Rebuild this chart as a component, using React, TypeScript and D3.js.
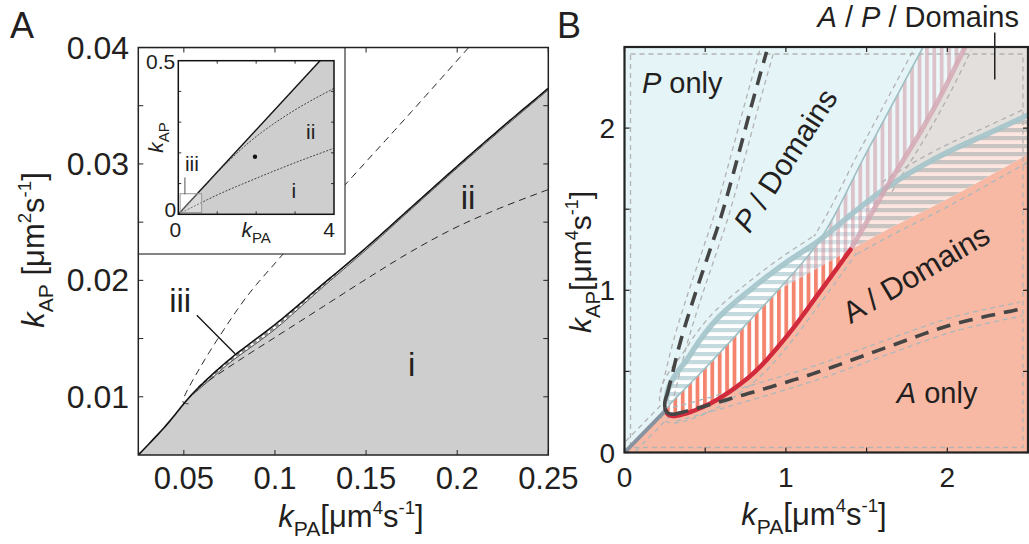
import React from 'react';
import * as d3 from 'd3';

type Pt = [number, number];

// Phase diagrams. Panel A: main plot + inset, panel B: regimes.

const FONT = "'Liberation Sans', Arial, Helvetica, sans-serif";
const INK = '#231f20';

// ---------- panel A data ----------
const A_X_TICKS = [0.05, 0.1, 0.15, 0.2, 0.25];
const A_X_LABELS = ['0.05', '0.1', '0.15', '0.2', '0.25'];
const A_Y_TICKS = [0.01, 0.015, 0.02, 0.025, 0.03, 0.035, 0.04];
const A_Y_LABELED = [0.01, 0.02, 0.03, 0.04];
const A_Y_LABELS = ['0.01', '0.02', '0.03', '0.04'];

// top of the grey area (solid line)
const boundaryA: Pt[] = [
  [0.025, 0.005], [0.04, 0.0075], [0.055, 0.0103], [0.075, 0.0132], [0.1, 0.0162],
  [0.125, 0.0195], [0.15, 0.0228], [0.175, 0.0263], [0.2, 0.0298], [0.225, 0.0332], [0.25, 0.0365],
];
// lower edge of the thin band iii
const bandEdgeA: Pt[] = [
  [0.055, 0.0102], [0.065, 0.01155], [0.075, 0.0129], [0.1, 0.0158], [0.125, 0.01925],
  [0.15, 0.02262], [0.175, 0.02615], [0.2, 0.02965], [0.225, 0.03305], [0.25, 0.03636],
];
const upperDashA: Pt[] = [
  [0.0525, 0.0094], [0.0497, 0.0095], [0.05, 0.0099], [0.06, 0.0128], [0.07, 0.0153], [0.085, 0.0187],
  [0.103, 0.022], [0.125, 0.0259], [0.1425, 0.0289], [0.175, 0.0345], [0.2063, 0.04],
];
const lowerDashA: Pt[] = [
  [0.058, 0.0108], [0.08, 0.0131], [0.1, 0.0151], [0.125, 0.0176], [0.15, 0.0201],
  [0.175, 0.0225], [0.2, 0.0246], [0.225, 0.0263], [0.25, 0.0278],
];
const hatchSpanA: Pt = [0.058, 0.135];
const regionLabelsA = [
  { text: 'ii', at: [0.206, 0.0261] as Pt },
  { text: 'i', at: [0.175, 0.0118] as Pt },
  { text: 'iii', at: [0.048, 0.0173] as Pt },
];
const iiiLeader: Pt[] = [[0.0571, 0.017], [0.0781, 0.0137]];

// inset
const I_X_TICKS = [1, 2, 3];
const I_Y_TICKS = [0.1, 0.2, 0.3, 0.4];
const insetSolid: Pt[] = [[0, 0], [3.64, 0.5]];
const insetUpperDot: Pt[] = [[0, 0], [0.6, 0.082], [1.2, 0.162], [2, 0.253], [3, 0.34], [4, 0.41]];
const insetLowerDot: Pt[] = [[0, 0], [1, 0.063], [2, 0.117], [3, 0.168], [4, 0.215]];
const insetDot: Pt = [1.97, 0.1875];
const insetZoomBox: Pt[] = [[0.047, 0.0057], [0.6, 0.067]];
const insetLabels = [
  { text: 'ii', at: [3.4, 0.245] as Pt },
  { text: 'i', at: [2.97, 0.053] as Pt },
  { text: 'iii', at: [0.35, 0.14] as Pt },
];
const insetLeader: Pt[] = [[0.17, 0.12], [0.17, 0.065]];

// ---------- panel B data ----------
const B_TICKS = [0, 0.5, 1, 1.5, 2, 2.5];
const B_LABELED = [0, 1, 2];

const diagB: Pt[] = [[0, 0], [0.255, 0.26]];
const thinLineB: Pt[] = [
  [0.255, 0.26], [0.28, 0.295], [0.5, 0.52], [0.8, 0.84], [0.95, 1.0], [1.21, 1.31], [1.5, 1.85], [1.85, 2.5],
];
const thinSplitB = 0.95;
const blueCurveB: Pt[] = [
  [0.26, 0.33], [0.27, 0.39], [0.31, 0.47], [0.385, 0.57], [0.48, 0.71], [0.59, 0.84], [0.8, 1.02],
  [1.0, 1.17], [1.21, 1.31], [1.42, 1.48], [1.62, 1.63], [1.83, 1.76], [2.04, 1.87], [2.24, 1.96], [2.5, 2.08],
];
const redCurveB: Pt[] = [
  [0.255, 0.26], [0.27, 0.235], [0.3, 0.225], [0.385, 0.242], [0.49, 0.283], [0.59, 0.335],
  [0.8, 0.49], [1.0, 0.71], [1.21, 0.99], [1.4, 1.25],
];
const pinkCurveB: Pt[] = [[1.4, 1.25], [1.5, 1.42], [1.62, 1.63], [1.83, 1.97], [1.97, 2.22], [2.11, 2.5]];
const salmonEdgeB: Pt[] = [[1.4, 1.25], [1.6, 1.36], [2.04, 1.585], [2.5, 1.84]];
const crossB = 1.62; // pink meets blue
const blueMeetsThinB = 1.21;
const upperDashB: Pt[] = [
  [0.265, 0.36], [0.292, 0.467], [0.344, 0.674], [0.426, 0.941], [0.529, 1.247],
  [0.6, 1.46], [0.715, 1.87], [0.79, 2.15], [0.88, 2.47],
];
const hookB: Pt[] = [[0.265, 0.36], [0.25, 0.31], [0.255, 0.26], [0.275, 0.24], [0.31, 0.236]];
const lowerDashB: Pt[] = [
  [0.31, 0.236], [0.447, 0.272], [0.695, 0.343], [0.942, 0.415], [1.211, 0.5],
  [1.624, 0.648], [2.036, 0.79], [2.46, 0.885],
];
const regionLabelsB = [
  { pre: 'P', text: ' only', at: [0.108, 2.219] as Pt, angle: 0, size: 29 },
  { pre: 'P', text: ' / Domains', at: [0.775, 1.345] as Pt, angle: -57, size: 30 },
  { pre: '', text: 'A / Domains', at: [1.4, 0.79] as Pt, angle: -30.5, size: 30.5 },
  { pre: 'A', text: ' only', at: [1.687, 0.306] as Pt, angle: 0, size: 29 },
];
const apLeader: Pt[] = [[2.294, 2.59], [2.294, 2.3]];

// ---------- scales ----------
const xA = d3.scaleLinear().domain([0.025, 0.25]).range([138.3, 548.3]);
const yA = d3.scaleLinear().domain([0.005, 0.04]).range([455, 47.5]);
const xI = d3.scaleLinear().domain([0, 4]).range([178.3, 334]);
const yI = d3.scaleLinear().domain([0, 0.5]).range([214.3, 60.7]);
const xB = d3.scaleLinear().domain([0, 2.5]).range([624.5, 1028]);
const yB = d3.scaleLinear().domain([0, 2.5]).range([452.5, 47]);

const INSET_BOX = { right: 345, bottom: 254 };

// sample a catmull-rom curve into a dense pixel polyline
function sample(pts: Pt[]): Pt[] {
  const out: Pt[] = [];
  let cx = 0;
  let cy = 0;
  const ctx: any = {
    moveTo(x: number, y: number) { out.push([x, y]); cx = x; cy = y; },
    lineTo(x: number, y: number) { out.push([x, y]); cx = x; cy = y; },
    bezierCurveTo(x1: number, y1: number, x2: number, y2: number, x: number, y: number) {
      for (let i = 1; i <= 14; i++) {
        const t = i / 14;
        const u = 1 - t;
        out.push([
          u * u * u * cx + 3 * u * u * t * x1 + 3 * u * t * t * x2 + t * t * t * x,
          u * u * u * cy + 3 * u * u * t * y1 + 3 * u * t * t * y2 + t * t * t * y,
        ]);
      }
      cx = x; cy = y;
    },
    closePath() {},
  };
  d3.line<Pt>().curve(d3.curveCatmullRom.alpha(0.5)).context(ctx)(pts);
  return out;
}

const proj = (sx: any, sy: any) => (pts: Pt[]): Pt[] => sample(pts.map(([a, b]) => [sx(a), sy(b)] as Pt));
const pA = proj(xA, yA);
const pI = proj(xI, yI);
const pB = proj(xB, yB);

const poly = (pts: Pt[], close = false) =>
  'M' + pts.map((p) => `${p[0].toFixed(2)},${p[1].toFixed(2)}`).join('L') + (close ? 'Z' : '');

function offset(pts: Pt[], d: number): Pt[] {
  return pts.map((p, i) => {
    const a = pts[Math.max(0, i - 1)];
    const b = pts[Math.min(pts.length - 1, i + 1)];
    let tx = b[0] - a[0];
    let ty = b[1] - a[1];
    const L = Math.hypot(tx, ty) || 1;
    tx /= L; ty /= L;
    return [p[0] - ty * d, p[1] + tx * d] as Pt;
  });
}

function Title({ x, y, size, sub, sup, space, rotate }: any) {
  return (
    <text
      x={x}
      y={y}
      fontSize={size}
      textAnchor="middle"
      fill={INK}
      transform={rotate ? `rotate(-90, ${x}, ${y})` : undefined}
    >
      <tspan fontStyle="italic">k</tspan>
      <tspan fontSize={size * 0.68} dy={size * 0.3}>{sub}</tspan>
      <tspan dy={-size * 0.3}>{space ? ' [' : '['}μm</tspan>
      <tspan fontSize={size * 0.6} dy={-size * 0.42}>{sup}</tspan>
      <tspan dy={size * 0.42}>s</tspan>
      <tspan fontSize={size * 0.6} dy={-size * 0.42}>-1</tspan>
      <tspan dy={size * 0.42}>]</tspan>
    </text>
  );
}

function PanelA() {
  const [x0, x1] = xA.range();
  const [y0, y1] = yA.range();
  const solid = pA(boundaryA);
  const band = pA(bandEdgeA);
  const grey = poly([...solid, [x1, y0], [x0, y0]], true);
  const bandPath = poly([...solid.filter((p) => p[0] >= band[0][0]), ...band.slice().reverse()], true);
  const hatch = offset(band, -1.6).filter((p) => p[0] >= xA(hatchSpanA[0]) && p[0] <= xA(hatchSpanA[1]));

  const [ix0, ix1] = xI.range();
  const [iy0, iy1] = yI.range();
  const iSolid = pI(insetSolid);
  const zb0 = [xI(insetZoomBox[0][0]), yI(insetZoomBox[0][1])];
  const zb1 = [xI(insetZoomBox[1][0]), yI(insetZoomBox[1][1])];

  return (
    <g>
      <text x={10} y={38} fontSize={36} fill={INK}>A</text>
      <defs>
        <clipPath id="clipA"><rect x={x0} y={y1} width={x1 - x0} height={y0 - y1} /></clipPath>
      </defs>
      <g clipPath="url(#clipA)">
        <path d={grey} fill="#cecece" />
        <path d={bandPath} fill="#fff" />
        <path d={poly(hatch)} fill="none" stroke="#8a8a8a" strokeWidth={2.2} strokeDasharray="4 3" />
        <path d={poly(band)} fill="none" stroke="#444" strokeWidth={1} />
        <path d={poly(solid)} fill="none" stroke="#111" strokeWidth={1.6} />
        <path d={poly(pA(upperDashA))} fill="none" stroke="#222" strokeWidth={1} strokeDasharray="7 5" />
        <path d={poly(pA(lowerDashA))} fill="none" stroke="#222" strokeWidth={1} strokeDasharray="7 5" />
        <line
          x1={xA(iiiLeader[0][0])} y1={yA(iiiLeader[0][1])}
          x2={xA(iiiLeader[1][0])} y2={yA(iiiLeader[1][1])}
          stroke="#111" strokeWidth={1.3}
        />
        {regionLabelsA.map((l) => (
          <text key={l.text} x={xA(l.at[0])} y={yA(l.at[1])} fontSize={33} textAnchor="middle" fill={INK}>
            {l.text}
          </text>
        ))}

        {/* inset */}
        <rect x={x0} y={y1} width={INSET_BOX.right - x0} height={INSET_BOX.bottom - y1} fill="#fff" stroke="#333" strokeWidth={1.2} />
        <path d={poly([...iSolid, [ix1, iy1], [ix1, iy0]], true)} fill="#cecece" />
        <path d={poly(iSolid)} fill="none" stroke="#111" strokeWidth={1.4} />
        <path d={poly(pI(insetUpperDot))} fill="none" stroke="#333" strokeWidth={0.9} strokeDasharray="2 1.5" />
        <path d={poly(pI(insetLowerDot))} fill="none" stroke="#333" strokeWidth={0.9} strokeDasharray="2 1.5" />
        <circle cx={xI(insetDot[0])} cy={yI(insetDot[1])} r={2.2} fill="#111" />
        <rect x={zb0[0]} y={zb1[1]} width={zb1[0] - zb0[0]} height={zb0[1] - zb1[1]} fill="rgba(255,255,255,0.25)" stroke="#999" strokeWidth={1} />
        <line
          x1={xI(insetLeader[0][0])} y1={yI(insetLeader[0][1])}
          x2={xI(insetLeader[1][0])} y2={yI(insetLeader[1][1])}
          stroke="#555" strokeWidth={1}
        />
        {I_X_TICKS.map((t) => (
          <g key={`ix${t}`}>
            <line x1={xI(t)} x2={xI(t)} y1={iy0} y2={iy0 - 3} stroke="#333" />
            <line x1={xI(t)} x2={xI(t)} y1={iy1} y2={iy1 + 3} stroke="#333" />
          </g>
        ))}
        {I_Y_TICKS.map((t) => (
          <g key={`iy${t}`}>
            <line x1={ix0} x2={ix0 + 3} y1={yI(t)} y2={yI(t)} stroke="#333" />
            <line x1={ix1} x2={ix1 - 3} y1={yI(t)} y2={yI(t)} stroke="#333" />
          </g>
        ))}
        <rect x={ix0} y={iy1} width={ix1 - ix0} height={iy0 - iy1} fill="none" stroke="#111" strokeWidth={1.5} />
        {insetLabels.map((l) => (
          <text key={`il${l.text}`} x={xI(l.at[0])} y={yI(l.at[1])} fontSize={21} textAnchor="middle" fill={INK}>
            {l.text}
          </text>
        ))}
        <text x={ix0 - 3} y={iy1 + 8} fontSize={21} textAnchor="end" fill={INK}>0.5</text>
        <text x={ix0 - 2} y={iy0 + 3} fontSize={21} textAnchor="end" fill={INK}>0</text>
        <text x={ix0 - 3} y={iy0 + 23} fontSize={21} textAnchor="middle" fill={INK}>0</text>
        <text x={ix1 - 5} y={iy0 + 23} fontSize={21} textAnchor="middle" fill={INK}>4</text>
        <text x={163} y={(iy0 + iy1) / 2} fontSize={21} textAnchor="middle" fill={INK} transform={`rotate(-90, 163, ${(iy0 + iy1) / 2})`}>
          <tspan fontStyle="italic">k</tspan>
          <tspan fontSize={15} dy={6}>AP</tspan>
        </text>
        <text x={(ix0 + ix1) / 2} y={iy0 + 23} fontSize={21} textAnchor="middle" fill={INK}>
          <tspan fontStyle="italic">k</tspan>
          <tspan fontSize={15} dy={6}>PA</tspan>
        </text>
      </g>

      {/* ticks and frame */}
      {A_X_TICKS.map((t) => (
        <g key={`ax${t}`}>
          <line x1={xA(t)} x2={xA(t)} y1={y0} y2={y0 - 5} stroke="#222" strokeWidth={1} />
          <line x1={xA(t)} x2={xA(t)} y1={y1} y2={y1 + 5} stroke="#222" strokeWidth={1} />
        </g>
      ))}
      {A_Y_TICKS.map((t) => (
        <g key={`ay${t}`}>
          <line x1={x0} x2={x0 + 5} y1={yA(t)} y2={yA(t)} stroke="#222" strokeWidth={1} />
          <line x1={x1} x2={x1 - 5} y1={yA(t)} y2={yA(t)} stroke="#222" strokeWidth={1} />
        </g>
      ))}
      <rect x={x0} y={y1} width={x1 - x0} height={y0 - y1} fill="none" stroke="#222" strokeWidth={1.5} />
      {A_X_TICKS.map((t, i) => (
        <text key={`axl${t}`} x={xA(t)} y={489} fontSize={31} textAnchor="middle" fill={INK}>{A_X_LABELS[i]}</text>
      ))}
      {A_Y_LABELED.map((t, i) => (
        <text key={`ayl${t}`} x={129} y={yA(t) + 11} fontSize={32} textAnchor="end" fill={INK}>{A_Y_LABELS[i]}</text>
      ))}
      <Title x={44} y={250} size={31} sub="AP" sup="2" space rotate />
      <Title x={351} y={527} size={31} sub="PA" sup="4" />
    </g>
  );
}

function PanelB() {
  const [x0, x1] = xB.range();
  const [y0, y1] = yB.range();
  const c = (a: number, b: number): Pt => [xB(a), yB(b)];

  const diag = pB(diagB);
  const thin = pB(thinLineB);
  const thinLow = thin.filter((p) => p[0] <= xB(thinSplitB));
  const thinUp = thin.filter((p) => p[0] >= xB(thinSplitB));
  const blue = pB(blueCurveB);
  const red = pB(redCurveB);
  const pink = pB(pinkCurveB);
  const salmon = pB(salmonEdgeB);
  const upDash = pB(upperDashB);
  const loDash = pB(lowerDashB);
  const redEnd = red[red.length - 1];
  const blueEnd = blue[blue.length - 1];
  const salmonEnd = salmon[salmon.length - 1];

  const salmonPoly = poly([...diag, ...red, ...salmon, c(2.5, 0)], true);
  const pinkUp = pink.filter((p) => p[0] >= xB(crossB));
  const blueRight = blue.filter((p) => p[0] >= xB(crossB));
  const greyPoly = poly([...pinkUp, c(2.5, 2.5), blueEnd, ...blueRight.slice().reverse()], true);
  const hPoly = poly([...blue, salmonEnd, ...salmon.slice().reverse(), ...thinLow.slice().reverse()], true);
  const vRedPoly = poly([...thinLow, redEnd, ...red.slice().reverse()], true);
  const vPinkPoly = poly([...thinUp, ...pink.slice().reverse()], true);
  const rightOfPink = poly([...pink, c(2.5, 2.5), c(2.5, 1.0), c(pinkCurveB[0][0], 1.0)], true);
  const leftOfPink = poly([...pink, c(0, 2.5), c(0, 0), c(pinkCurveB[0][0], 0)], true);

  const cyanEdge = [...diag, ...blue.filter((p) => p[0] <= xB(blueMeetsThinB)), ...thin.filter((p) => p[0] >= xB(blueMeetsThinB))];
  const salmonEdge = [...diag, ...red, ...salmon];

  const outlineCyan = '#b3b3b3';
  const outlineSalmon = '#a9b8bc';

  return (
    <g>
      <text x={557} y={38} fontSize={36} fill={INK}>B</text>
      <defs>
        <clipPath id="clipB"><rect x={x0} y={y1} width={x1 - x0} height={y0 - y1} /></clipPath>
        <clipPath id="leftPink"><path d={leftOfPink} /></clipPath>
        <clipPath id="rightPink"><path d={rightOfPink} /></clipPath>
        <pattern id="hBlue" width={8} height={8} patternUnits="userSpaceOnUse">
          <rect width={8} height={8} fill="#ffffff" />
          <rect width={8} height={4.2} fill="#c4dadf" />
        </pattern>
        <pattern id="hGrey" width={8} height={8} patternUnits="userSpaceOnUse">
          <rect width={8} height={8} fill="#fde6df" />
          <rect width={8} height={4.2} fill="#c8c4c2" />
        </pattern>
        <pattern id="vRed" width={7.4} height={8} patternUnits="userSpaceOnUse">
          <rect width={7.4} height={8} fill="#ffffff" />
          <rect width={3.8} height={8} fill="#f5846f" />
        </pattern>
        <pattern id="vPink" width={7.4} height={8} patternUnits="userSpaceOnUse">
          <rect width={7.4} height={8} fill="rgba(255,255,255,0.3)" />
          <rect width={3.8} height={8} fill="rgba(200,130,142,0.45)" />
        </pattern>
      </defs>
      <g clipPath="url(#clipB)">
        <rect x={x0} y={y1} width={x1 - x0} height={y0 - y1} fill="#e4f4f7" />
        <path d={salmonPoly} fill="#f8b9a4" />
        <path d={greyPoly} fill="#e3dfdc" />
        <path d={hPoly} fill="url(#hBlue)" clipPath="url(#leftPink)" />
        <path d={hPoly} fill="url(#hGrey)" clipPath="url(#rightPink)" />
        <path d={vRedPoly} fill="url(#vRed)" />
        <path d={vPinkPoly} fill="url(#vPink)" />

        {/* dashed region outlines */}
        <rect x={x0 + 6} y={y1 + 7} width={x1 - x0 - 11} height={y0 - y1 - 12} fill="none" stroke={outlineCyan} strokeWidth={1.3} strokeDasharray="5 4" />
        <path d={poly(offset(cyanEdge, -7))} fill="none" stroke={outlineCyan} strokeWidth={1.3} strokeDasharray="5 4" />
        <path d={poly(offset(salmonEdge, 7))} fill="none" stroke={outlineSalmon} strokeWidth={1.3} strokeDasharray="5 4" />
        <path d={poly(offset(upDash, 7))} fill="none" stroke={outlineCyan} strokeWidth={1.3} strokeDasharray="5 4" />
        <path d={poly(offset(upDash, -7))} fill="none" stroke={outlineCyan} strokeWidth={1.3} strokeDasharray="5 4" />
        <path d={poly(offset(loDash, 7))} fill="none" stroke={outlineSalmon} strokeWidth={1.3} strokeDasharray="5 4" />
        <path d={poly(offset(loDash, -7))} fill="none" stroke={outlineSalmon} strokeWidth={1.3} strokeDasharray="5 4" />
        <path d={poly(offset(pinkUp, 7))} fill="none" stroke="#b0b0b0" strokeWidth={1.3} strokeDasharray="5 4" />
        <path d={poly(offset(blueRight, -7))} fill="none" stroke="#b0b0b0" strokeWidth={1.3} strokeDasharray="5 4" />

        <path d={poly(thin)} fill="none" stroke="#9dbfc3" strokeWidth={1.6} />
        <path d={poly(blue)} fill="none" stroke="#a3c4ca" strokeWidth={5.5} strokeOpacity={0.9} strokeLinecap="round" />
        <path d={poly(pink)} fill="none" stroke="#d3a6b3" strokeWidth={5} strokeOpacity={0.8} />
        <path d={poly(red)} fill="none" stroke="#d02a3c" strokeWidth={4.5} strokeLinecap="round" />
        <path d={poly(diag)} fill="none" stroke="#8793a0" strokeWidth={4} />
        <path d={poly(pB(hookB))} fill="none" stroke="#454545" strokeWidth={3.6} strokeLinecap="round" />
        <path d={poly(upDash)} fill="none" stroke="#454545" strokeWidth={3.6} strokeDasharray="14 9" />
        <path d={poly(loDash)} fill="none" stroke="#454545" strokeWidth={3.6} strokeDasharray="14 9" />

        {regionLabelsB.map((l) => (
          <text
            key={l.pre + l.text}
            transform={`translate(${xB(l.at[0])}, ${yB(l.at[1])}) rotate(${l.angle})`}
            fontSize={l.size}
            fill={INK}
          >
            {l.pre && <tspan fontStyle="italic">{l.pre}</tspan>}
            <tspan>{l.text}</tspan>
          </text>
        ))}
      </g>

      <line x1={xB(apLeader[0][0])} x2={xB(apLeader[1][0])} y1={yB(apLeader[0][1])} y2={yB(apLeader[1][1])} stroke="#222" strokeWidth={1.5} />
      <text x={1019} y={27} fontSize={29} textAnchor="end" fill={INK}>
        <tspan fontStyle="italic">A</tspan>
        <tspan> / </tspan>
        <tspan fontStyle="italic">P</tspan>
        <tspan> / Domains</tspan>
      </text>

      {B_TICKS.map((t) => (
        <g key={`bt${t}`}>
          <line x1={xB(t)} x2={xB(t)} y1={y0} y2={y0 - 5} stroke="#222" strokeWidth={1.2} />
          <line x1={xB(t)} x2={xB(t)} y1={y1} y2={y1 + 5} stroke="#222" strokeWidth={1.2} />
          <line x1={x0} x2={x0 + 5} y1={yB(t)} y2={yB(t)} stroke="#222" strokeWidth={1.2} />
          <line x1={x1} x2={x1 - 5} y1={yB(t)} y2={yB(t)} stroke="#222" strokeWidth={1.2} />
        </g>
      ))}
      <rect x={x0} y={y1} width={x1 - x0} height={y0 - y1} fill="none" stroke="#222" strokeWidth={2.2} />
      {B_LABELED.map((t) => (
        <g key={`bl${t}`}>
          <text x={xB(t)} y={487} fontSize={28} textAnchor="middle" fill={INK}>{t}</text>
          <text x={615} y={yB(t) + 10} fontSize={28} textAnchor="end" fill={INK}>{t}</text>
        </g>
      ))}
      <Title x={591} y={262} size={30} sub="AP" sup="4" rotate />
      <Title x={814} y={525} size={31} sub="PA" sup="4" />
    </g>
  );
}

export default function App() {
  return (
    <svg
      width={1029}
      height={544}
      viewBox="0 0 1029 544"
      style={{ position: 'fixed', left: 0, top: 0, background: '#fff', fontFamily: FONT }}
    >
      <PanelA />
      <PanelB />
    </svg>
  );
}
